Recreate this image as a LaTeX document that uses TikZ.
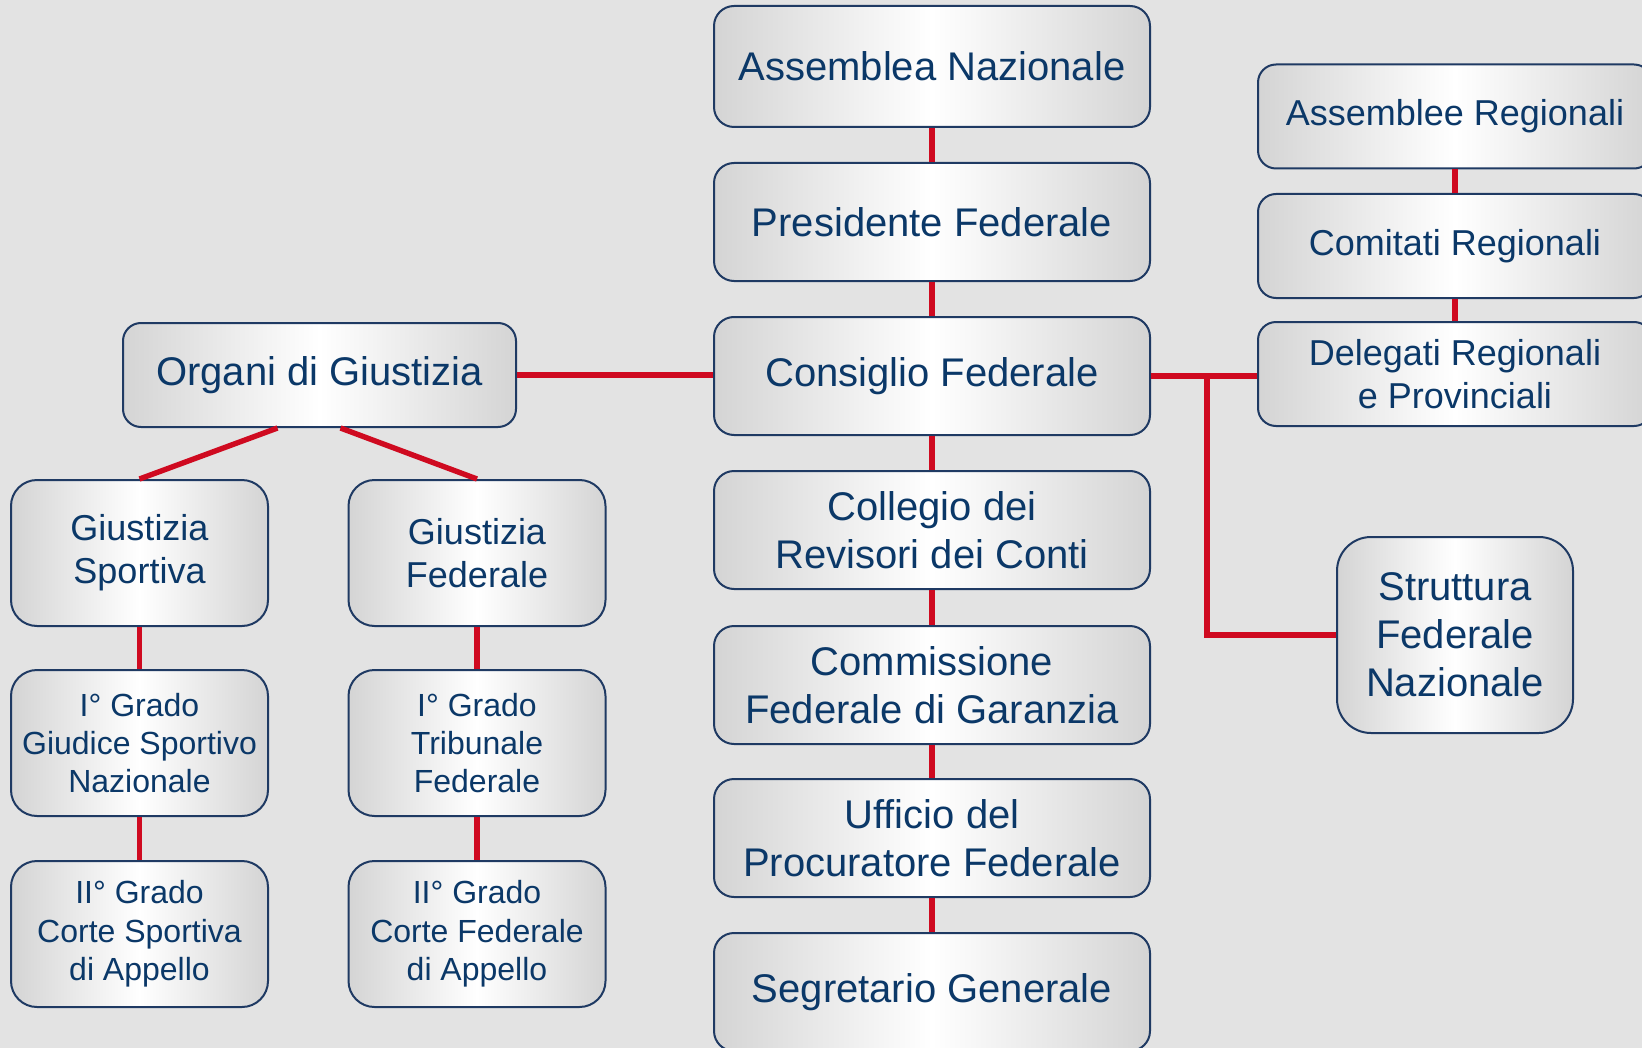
\documentclass[tikz,border=0pt]{standalone}
\usepackage{fontspec}
\setmainfont{Liberation Sans}
\usetikzlibrary{calc}
\definecolor{bg}{HTML}{E3E3E3}
\definecolor{navy}{HTML}{0B3868}
\definecolor{edge}{HTML}{1F3A63}
\definecolor{side}{HTML}{D4D4D4}
\definecolor{fedred}{HTML}{CF0A20}
\tikzset{
	org/.style={draw=edge, line width=1pt, left color=side, right color=side, middle color=white,
		text=navy, align=center, inner sep=0pt},
	centre/.style={org, font=\fontsize{20}{24}\selectfont, minimum width=218pt, minimum height=59pt, rounded corners=10pt},
	wide/.style={org, font=\fontsize{18}{21.6}\selectfont, minimum width=197pt, minimum height=52pt, rounded corners=9pt},
	court/.style={org, font=\fontsize{16}{19.2}\selectfont, minimum width=128.5pt, minimum height=73pt, rounded corners=13pt},
	link/.style={draw=fedred, line width=2.7pt}
}
\begin{document}
\begin{tikzpicture}[x=0.5pt,y=-0.5pt]
	\fill[bg] (0,0) rectangle (1642,1048);
	\useasboundingbox (0,0) rectangle (1642,1048);

	\node[centre, minimum height=60.5pt] (an) at (932,66.5) {Assemblea Nazionale};
	\node[centre] (pf) at (932,222) {Presidente Federale};
	\node[centre] (cf) at (932,376) {Consiglio Federale};
	\node[centre] (cr) at (932,530) {Collegio dei\\Revisori dei Conti};
	\node[centre] (cg) at (932,685) {Commissione\\Federale di Garanzia};
	\node[centre] (up) at (932,838) {Ufficio del\\Procuratore Federale};
	\node[centre] (sg) at (932,992) {Segretario Generale};

	\node[wide, font=\fontsize{20}{24}\selectfont, minimum width=196.5pt] (og) at (319.5,375) {Organi di Giustizia};
	\node[court, font=\fontsize{18}{21.6}\selectfont] (gs) at (139.5,553) {Giustizia\\Sportiva};
	\node[court, font=\fontsize{18}{21.6}\selectfont] (gf) at (477,553) {Giustizia\\Federale};
	\node[court] (gs1) at (139.5,743) {I° Grado\\Giudice Sportivo\\Nazionale};
	\node[court] (gf1) at (477,743) {I° Grado\\Tribunale\\Federale};
	\node[court] (gs2) at (139.5,934) {II° Grado\\Corte Sportiva\\di Appello};
	\node[court] (gf2) at (477,934) {II° Grado\\Corte Federale\\di Appello};

	\node[wide] (ar) at (1455,116.5) {Assemblee Regionali};
	\node[wide] (cmr) at (1455,246) {Comitati Regionali};
	\node[wide] (dr) at (1455,374) {Delegati Regionali\\e Provinciali};
	\node[org, font=\fontsize{20}{24}\selectfont, minimum width=118pt, minimum height=98pt, rounded corners=17pt] (sf) at (1455,635) {Struttura\\Federale\\Nazionale};

	\draw[link] (an) -- (pf);
	\draw[link] (pf) -- (cf);
	\draw[link] (cf) -- (cr);
	\draw[link] (cr) -- (cg);
	\draw[link] (cg) -- (up);
	\draw[link] (up) -- (sg);

	\draw[link] (og.east) -- (og.east -| cf.west);
	\draw[link] ($(og.south)+(-42,0)$) -- (gs.north);
	\draw[link] ($(og.south)+(21,0)$) -- (gf.north);
	\draw[link] (gs) -- (gs1);
	\draw[link] (gs1) -- (gs2);
	\draw[link] (gf) -- (gf1);
	\draw[link] (gf1) -- (gf2);

	\draw[link] (ar) -- (cmr);
	\draw[link] (cmr) -- (dr);
	\draw[link] (cf.east) -- (cf.east -| dr.west);
	\coordinate (br) at (1207,376);
	\draw[link] (br) |- (sf.west);
\end{tikzpicture}
\end{document}
